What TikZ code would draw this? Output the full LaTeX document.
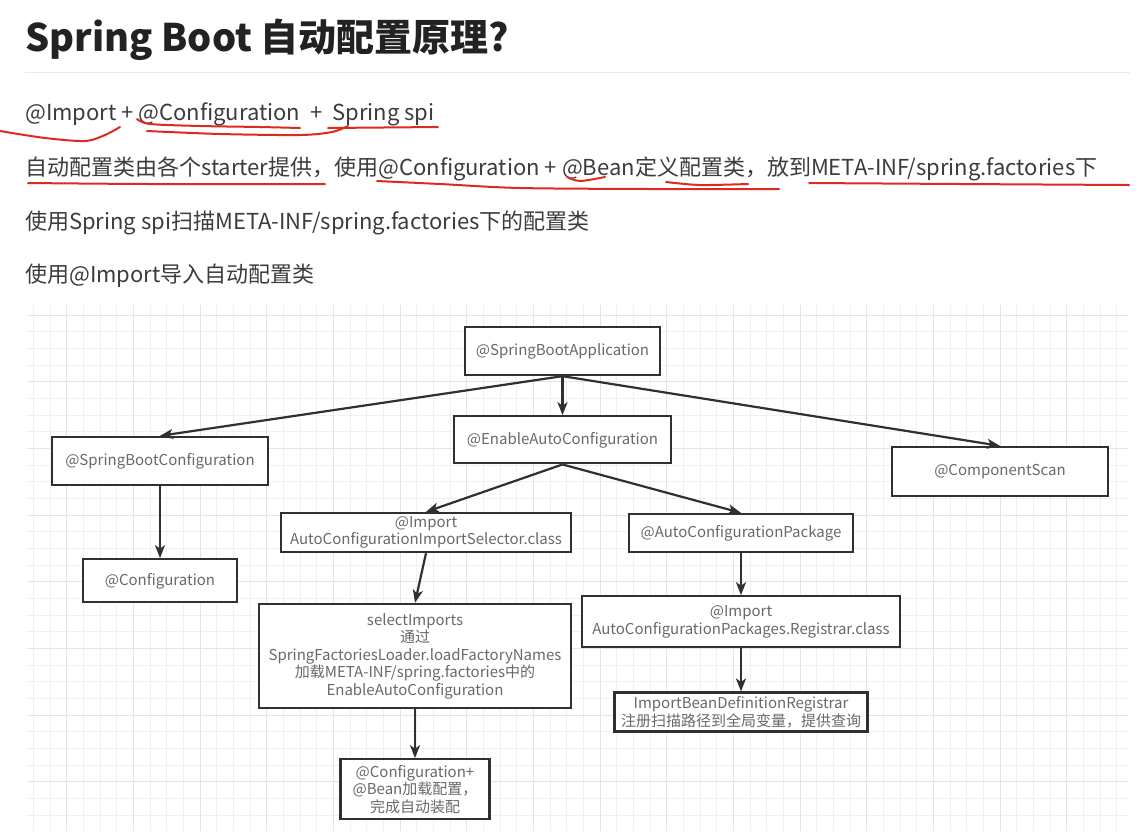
\documentclass[tikz,border=0pt]{standalone}
\usepackage{fontspec}
\setmainfont{Noto Sans CJK SC}
\usepackage{xcolor}
\usepackage{tikz}
\usetikzlibrary{arrows.meta,positioning}
\definecolor{TitleInk}{RGB}{34,34,34}
\definecolor{BodyInk}{RGB}{60,60,60}
\definecolor{RuleGray}{RGB}{234,234,234}
\definecolor{RedInk}{RGB}{222,42,30}
\definecolor{BoxLine}{RGB}{48,48,48}
\definecolor{BoxText}{RGB}{105,105,105}
\definecolor{GridMinor}{RGB}{240,240,240}
\definecolor{GridMajor}{RGB}{228,228,228}
\newcommand{\titlefont}{\fontsize{38}{42}\selectfont\bfseries}
\newcommand{\bodyfont}{\fontsize{22}{26}\selectfont}
\newcommand{\boxfont}{\fontsize{15}{17.5}\selectfont}
\tikzset{
  headline/.style={anchor=base west,inner sep=0pt,font=\titlefont,text=TitleInk},
  bodyline/.style={anchor=base west,inner sep=0pt,font=\bodyfont,text=BodyInk},
  box/.style={draw=BoxLine,line width=2.3pt,fill=white,text=BoxText,
              font=\boxfont,align=center,inner sep=0pt},
  link/.style={-{Stealth[length=13pt,width=10pt,inset=3.5pt]},line width=2.2pt,BoxLine},
  redink/.style={RedInk,line width=2pt,line cap=round,line join=round},
  gridminor/.style={GridMinor,line width=0.8pt},
  gridmajor/.style={GridMajor,line width=1pt},
}

\begin{document}
\begin{tikzpicture}[x=1pt,y=-1pt,>=Stealth,node distance=40pt]
  \fill[white] (0,0) rectangle (1142,831);
  \useasboundingbox (0,0) rectangle (1142,831);
  % grid paper
  \begin{scope}
    \clip (27,305) rectangle (1128,831);
    \foreach \k in {0,...,65} \draw[gridminor] (33.5+16.667*\k,305) -- (33.5+16.667*\k,831);
    \foreach \k in {0,...,30} \draw[gridminor] (27,315+16.667*\k) -- (1128,315+16.667*\k);
    \foreach \k in {2,6,...,62} \draw[gridmajor] (33.5+16.667*\k,305) -- (33.5+16.667*\k,831);
    \foreach \k in {0,4,...,28} \draw[gridmajor] (27,315+16.667*\k) -- (1128,315+16.667*\k);
  \end{scope}

  % heading and notes
  \node[headline] (title) at (25,51) {Spring Boot 自动配置原理?};
  \draw[RuleGray,line width=1pt] (25,72) -- (1130,72);
  \node[bodyline] (l1) at (25,120) {@Import + @Configuration\ \ +\ \ Spring spi};
  \node[bodyline] (l2) at (25,175) {自动配置类由各个starter提供，使用@Configuration + @Bean定义配置类，放到META-INF/spring.factories下};
  \node[bodyline] (l3) at (25,229) {使用Spring spi扫描META-INF/spring.factories下的配置类};
  \node[bodyline] (l4) at (25,282) {使用@Import导入自动配置类};

  % red pen
  \draw[redink] plot[smooth] coordinates {(0,131) (45,138) (85,141) (105,135) (120,127)};
  \draw[redink] plot[smooth] coordinates {(137,119) (150,124) (200,126) (260,127) (300,128)};
  \draw[redink] plot[smooth] coordinates {(147,131) (220,134) (300,135) (332,132) (348,126)};
  \draw[redink] (328,128) -- (438,127);
  \draw[redink] plot[smooth] coordinates {(28,183) (150,184) (325,184)};
  \draw[redink] plot[smooth] coordinates {(377,181) (440,184) (520,188) (650,189) (779,189)};
  \draw[redink] plot[smooth] coordinates {(567,177) (580,181) (605,177)};
  \draw[redink] plot[smooth] coordinates {(666,182) (700,185) (748,184)};
  \draw[redink] plot[smooth] coordinates {(809,183) (960,184) (1129,185)};

  % diagram
  \node[box,minimum width=195pt,minimum height=48pt] (sba) at (562.5,351) {@SpringBootApplication};
  \node[box,minimum width=217pt,minimum height=47pt,below=39pt of sba] (eac) {@EnableAutoConfiguration};
  \node[box,minimum width=216pt,minimum height=48pt] (sbc) at (160,461) {@SpringBootConfiguration};
  \node[box,minimum width=216pt,minimum height=49pt] (cs) at (1000,471.5) {@ComponentScan};
  \node[box,minimum width=154pt,minimum height=43pt,below=72pt of sbc] (conf) {@Configuration};
  \node[box,minimum width=290pt,minimum height=39pt] (sel) at (426,532.5)
    {@Import\\AutoConfigurationImportSelector.class};
  \node[box,minimum width=224pt,minimum height=38pt] (acp) at (741,533) {@AutoConfigurationPackage};
  \node[box,minimum width=312pt,minimum height=104pt] (simp) at (415,656)
    {selectImports\\通过\\SpringFactoriesLoader.loadFactoryNames\\加载META-INF/spring.factories中的\\EnableAutoConfiguration};
  \node[box,minimum width=149pt,minimum height=60pt,below=49pt of simp] (fin)
    {@Configuration+\\@Bean加载配置，\\完成自动装配};
  \node[box,minimum width=318pt,minimum height=51pt,below=42pt of acp] (reg)
    {@Import\\AutoConfigurationPackages.Registrar.class};
  \node[box,minimum width=253pt,minimum height=39pt,below=43pt of reg] (ibdr)
    {ImportBeanDefinitionRegistrar\\注册扫描路径到全局变量，提供查询};

  \draw[link] (sba.south) -- (eac.north);
  \draw[link] (sba.south) -- (sbc.north);
  \draw[link] (sba.south) -- (cs.north);
  \draw[link] (sbc.south) -- (conf.north);
  \draw[link] (eac.south) -- (sel.north);
  \draw[link] (eac.south) -- (acp.north);
  \draw[link] (sel.south) -- (simp.north);
  \draw[link] (simp.south) -- (fin.north);
  \draw[link] (acp.south) -- (reg.north);
  \draw[link] (reg.south) -- (ibdr.north);
\end{tikzpicture}
\end{document}
